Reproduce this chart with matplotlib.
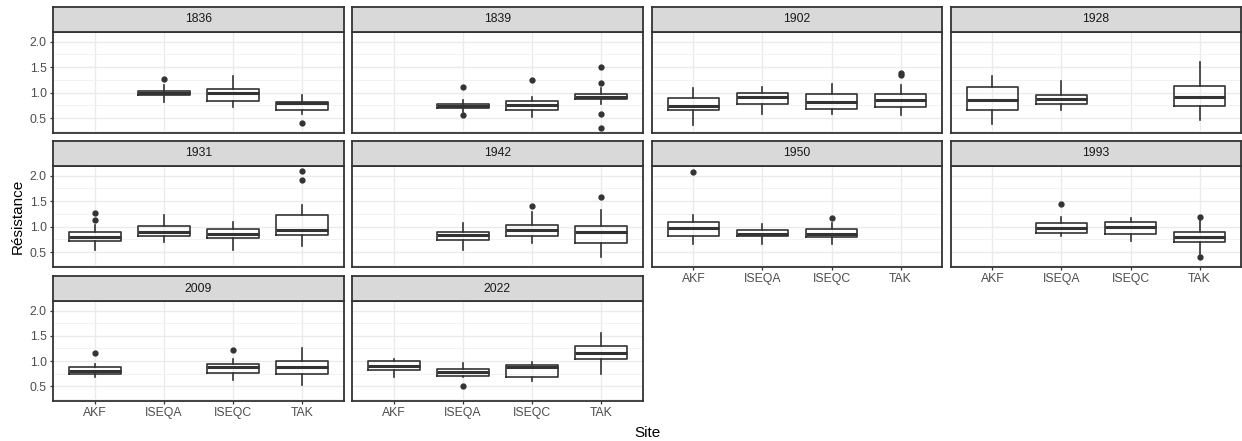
import matplotlib
matplotlib.use("Agg")
import matplotlib.pyplot as plt
import numpy as np

plt.rcParams['font.family'] = ['Liberation Sans', 'DejaVu Sans']

years = ["1836", "1839", "1902", "1928", "1931", "1942", "1950", "1993", "2009", "2022"]
sites = ["AKF", "ISEQA", "ISEQC", "TAK"]

# per year, per site (None = no data)
q1 = [
    [None, 0.95, 0.84, 0.67],
    [None, 0.70, 0.66, 0.88],
    [0.67, 0.77, 0.69, 0.72],
    [0.67, 0.77, None, 0.74],
    [0.72, 0.81, 0.77, 0.83],
    [None, 0.73, 0.81, 0.68],
    [0.81, 0.81, 0.80, None],
    [None, 0.87, 0.85, 0.70],
    [0.75, None, 0.76, 0.75],
    [0.83, 0.71, 0.68, 1.04],
]
median = [
    [None, 0.99, 0.99, 0.79],
    [None, 0.74, 0.76, 0.92],
    [0.74, 0.91, 0.82, 0.86],
    [0.86, 0.87, None, 0.91],
    [0.80, 0.89, 0.86, 0.94],
    [None, 0.83, 0.93, 0.90],
    [0.97, 0.86, 0.86, None],
    [None, 0.97, 1.00, 0.80],
    [0.81, None, 0.88, 0.88],
    [0.90, 0.78, 0.88, 1.17],
]
q3 = [
    [None, 1.04, 1.07, 0.82],
    [None, 0.78, 0.83, 0.97],
    [0.90, 0.99, 0.97, 0.97],
    [1.12, 0.95, None, 1.14],
    [0.90, 1.02, 0.96, 1.23],
    [None, 0.90, 1.03, 1.01],
    [1.10, 0.93, 0.95, None],
    [None, 1.07, 1.10, 0.90],
    [0.88, None, 0.94, 1.00],
    [1.01, 0.85, 0.92, 1.29],
]
whisker_low = [
    [None, 0.82, 0.71, 0.58],
    [None, 0.63, 0.53, 0.78],
    [0.36, 0.59, 0.58, 0.56],
    [0.38, 0.66, None, 0.46],
    [0.54, 0.70, 0.54, 0.63],
    [None, 0.54, 0.68, 0.41],
    [0.67, 0.67, 0.67, None],
    [None, 0.81, 0.72, 0.46],
    [0.68, None, 0.63, 0.53],
    [0.68, 0.68, 0.60, 0.74],
]
whisker_high = [
    [None, 1.15, 1.32, 0.95],
    [None, 0.86, 0.92, 1.09],
    [1.10, 1.12, 1.18, 1.15],
    [1.33, 1.22, None, 1.61],
    [1.04, 1.23, 1.10, 1.43],
    [None, 1.07, 1.28, 1.33],
    [1.22, 1.06, 1.07, None],
    [None, 1.20, 1.17, 1.17],
    [0.94, None, 1.05, 1.25],
    [1.04, 0.96, 0.99, 1.56],
]
outliers = [
    [[], [1.27], [], [0.41]],
    [[], [1.12, 0.56], [1.25], [1.51, 1.19, 0.59, 0.30]],
    [[], [], [], [1.34, 1.39]],
    [[], [], [], []],
    [[1.27, 1.14], [], [], [2.10, 1.91]],
    [[], [], [1.40], [1.58]],
    [[2.07], [], [1.17], []],
    [[], [1.44], [], [1.19, 0.41]],
    [[1.17], [], [1.22], []],
    [[], [0.51], [], []],
]

W, H = 1242, 441
fig = plt.figure(figsize=(W / 100, H / 100), dpi=100)

cols = [(53, 344), (352, 643), (652, 942), (951, 1241)]
panel_rows = [(32, 133), (166, 267), (301, 401)]
strip_rows = [(7, 32), (141, 166), (276, 301)]


def rect(x0, y0, x1, y1):
    return [x0 / W, 1 - y1 / H, (x1 - x0) / W, (y1 - y0) / H]


# y-limits like ggplot (5% expansion of data range)
allv = []
for i in range(len(years)):
    for j in range(len(sites)):
        for arr in (whisker_low, whisker_high):
            if arr[i][j] is not None:
                allv.append(arr[i][j])
        allv.extend(outliers[i][j])
lo, hi = min(allv), max(allv)
pad = 0.05 * (hi - lo)
ylim = (lo - pad, hi + pad)

dark = "#333333"
xlabel_panels = {6, 7, 8, 9}
fs = 8.8

for i, yr in enumerate(years):
    r, c = divmod(i, 4)
    x0, x1 = cols[c]
    py0, py1 = panel_rows[r]
    sy0, sy1 = strip_rows[r]

    ax = fig.add_axes(rect(x0, py0, x1, py1))
    ax.set_xlim(0.4, 4.6)
    ax.set_ylim(*ylim)
    ax.set_facecolor("white")
    ax.set_yticks([0.5, 1.0, 1.5, 2.0])
    ax.set_yticks([0.25, 0.75, 1.25, 1.75], minor=True)
    ax.set_xticks(range(1, 5))
    ax.grid(True, which="major", color="#EBEBEB", linewidth=1.0, zorder=0)
    ax.grid(True, which="minor", axis="y", color="#F2F2F2", linewidth=0.7, zorder=0)
    ax.set_axisbelow(True)
    for s in ax.spines.values():
        s.set_color(dark)
        s.set_linewidth(1.3)
    ax.tick_params(which="minor", length=0)
    ax.tick_params(which="major", length=2.5, width=0.9, color=dark,
                   labelsize=fs, labelcolor="#4D4D4D", pad=2)
    if c == 0:
        ax.set_yticklabels(["0.5", "1.0", "1.5", "2.0"])
    else:
        ax.tick_params(axis="y", length=0, labelleft=False)
    if i in xlabel_panels:
        ax.set_xticklabels(sites)
    else:
        ax.tick_params(axis="x", length=0, labelbottom=False)

    stats, pos = [], []
    for j in range(len(sites)):
        if median[i][j] is None:
            continue
        stats.append(dict(med=median[i][j], q1=q1[i][j], q3=q3[i][j],
                          whislo=whisker_low[i][j], whishi=whisker_high[i][j],
                          fliers=outliers[i][j]))
        pos.append(j + 1)
    ax.bxp(stats, positions=pos, widths=0.75, showcaps=False, manage_ticks=False,
           boxprops=dict(color=dark, linewidth=1.2),
           whiskerprops=dict(color=dark, linewidth=1.2),
           medianprops=dict(color=dark, linewidth=2.2),
           flierprops=dict(marker="o", markerfacecolor=dark, markeredgecolor=dark,
                           markersize=3.5, linestyle="none"))

    sax = fig.add_axes(rect(x0, sy0, x1, sy1))
    sax.set_facecolor("#D9D9D9")
    sax.set_xticks([])
    sax.set_yticks([])
    for s in sax.spines.values():
        s.set_color(dark)
        s.set_linewidth(1.3)
    sax.text(0.5, 0.5, yr, ha="center", va="center", fontsize=fs, color="#1A1A1A",
             transform=sax.transAxes)

fig.text(647 / W, 1 - 433 / H, "Site", ha="center", va="center", fontsize=11, color="black")
fig.text(18 / W, 1 - 216 / H, "Résistance", ha="center", va="center", rotation=90,
         fontsize=11, color="black")

fig.savefig("out.png", dpi=100)
